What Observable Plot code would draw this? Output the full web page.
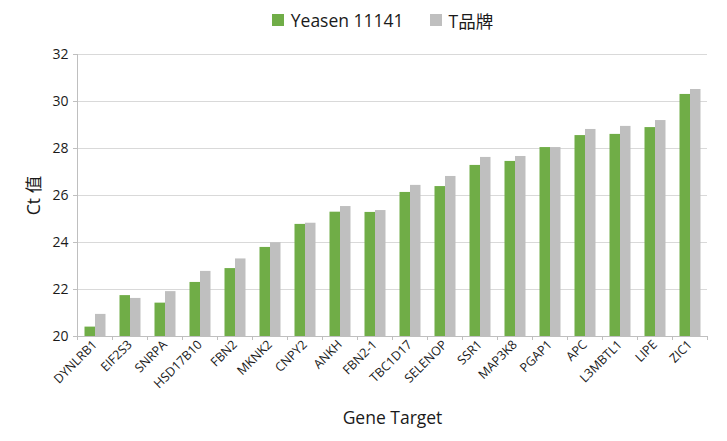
<!DOCTYPE html>
<html>
<head>
<meta charset="utf-8">
<script src="https://cdn.jsdelivr.net/npm/d3@7"></script>
<script src="https://cdn.jsdelivr.net/npm/@observablehq/plot@0.6"></script>
<style>
  body { margin: 0; background: #fff; font-family: "Open Sans", "Noto Sans CJK SC", sans-serif; }
  #legend { height: 40px; display: flex; align-items: center; justify-content: center; gap: 26px; font-size: 17.5px; color: #1a1a1a; padding-left: 38px; }
  #legend .item { display: flex; align-items: center; gap: 7px; }
  #legend .sw { width: 12px; height: 12px; display: inline-block; }
</style>
</head>
<body>
<div id="legend"></div>
<div id="chart"></div>
<script>
const genes = ["DYNLRB1","EIF2S3","SNRPA","HSD17B10","FBN2","MKNK2","CNPY2","ANKH","FBN2-1","TBC1D17","SELENOP","SSR1","MAP3K8","PGAP1","APC","L3MBTL1","LIPE","ZIC1"];
const yeasen = [20.40,21.74,21.42,22.30,22.89,23.79,24.77,25.29,25.28,26.13,26.38,27.28,27.45,28.04,28.55,28.60,28.89,30.30];
const tBrand = [20.94,21.62,21.91,22.77,23.30,23.99,24.82,25.53,25.36,26.43,26.81,27.62,27.66,28.04,28.81,28.94,29.19,30.51];
const seriesNames = ["Yeasen 11141", "T品牌"];
const colors = ["#70AD47", "#BFBFBF"];
const yTicks = [20,22,24,26,28,30,32];

const legend = document.getElementById("legend");
seriesNames.forEach((s, i) => {
  const it = document.createElement("span");
  it.className = "item";
  it.innerHTML = `<span class="sw" style="background:${colors[i]}"></span><span>${s}</span>`;
  legend.appendChild(it);
});

const W = 727, H = 401, ML = 77, MR = 20, MT = 14, MB = 105;
const bw = (W - ML - MR) / genes.length;
const idx = genes.map((_, i) => i);

const chart = Plot.plot({
  width: W, height: H,
  marginTop: MT, marginRight: MR, marginBottom: MB, marginLeft: ML,
  style: { fontFamily: '"Open Sans", "Noto Sans CJK SC", sans-serif', color: "#1a1a1a", background: "#fff" },
  x: { domain: genes, padding: 0 },
  y: { domain: [20, 32] },
  marks: [
    Plot.gridY(yTicks, { stroke: "#d9d9d9", strokeOpacity: 1 }),
    Plot.barY(idx, { x: i => genes[i], y1: 20, y2: i => yeasen[i], fill: colors[0], insetLeft: 7.5, insetRight: 17 }),
    Plot.barY(idx, { x: i => genes[i], y1: 20, y2: i => tBrand[i], fill: colors[1], insetLeft: 18, insetRight: 6.5 }),
    Plot.ruleY([20], { stroke: "#bfbfbf" }),
    Plot.ruleX(genes, { x: d => d, dx: -bw / 2, y1: 20, y2: 19.83, stroke: "#bfbfbf" }),
    Plot.ruleX([genes[genes.length - 1]], { dx: bw / 2, y1: 20, y2: 19.83, stroke: "#bfbfbf" }),
    Plot.ruleX([genes[0]], { dx: -bw / 2, y1: 20, y2: 32, stroke: "#bfbfbf" }),
    Plot.axisY(yTicks, { tickSize: 4, stroke: "#bfbfbf", fill: "#1a1a1a", fontSize: 14, tickPadding: 5,
      label: "Ct 值", labelAnchor: "center", labelOffset: 50, labelArrow: "none" }),
    Plot.axisX({ tickSize: 0, tickRotate: -45, fontSize: 12.5, fill: "#1a1a1a", tickPadding: 6,
      label: "Gene Target", labelAnchor: "center", labelOffset: 87, labelArrow: "none" })
  ]
});
document.getElementById("chart").appendChild(chart);
chart.querySelectorAll('g[aria-label="y-axis label"] text, g[aria-label="x-axis label"] text').forEach(t => {
  t.style.fontSize = "17.5px";
  t.textContent = t.textContent.replace(/[↑→←↓]/g, "").trim();
});
</script>
</body>
</html>
